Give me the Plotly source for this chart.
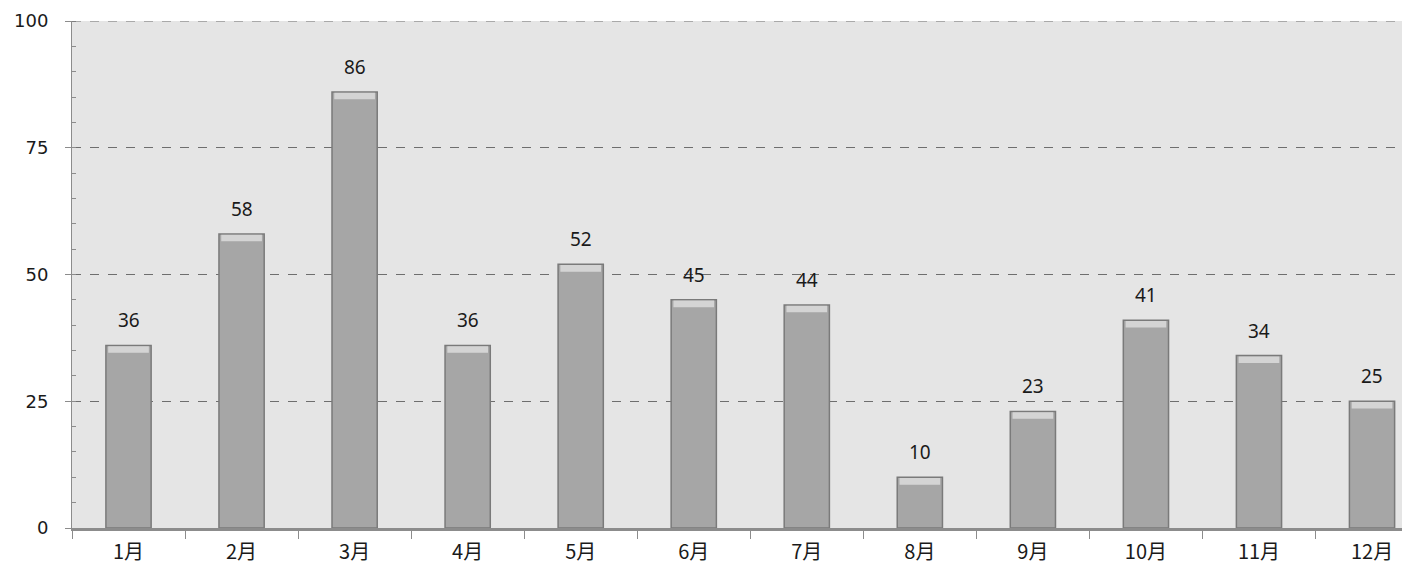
import plotly.graph_objects as go

months = ["1月", "2月", "3月", "4月", "5月", "6月", "7月", "8月", "9月", "10月", "11月", "12月"]
values = [36, 58, 86, 36, 52, 45, 44, 10, 23, 41, 34, 25]
y_ticks = [0, 25, 50, 75, 100]

bevel = 1.3
fig = go.Figure()
fig.add_trace(go.Bar(
    x=months, y=values, width=0.4,
    marker=dict(color="#a6a6a6", line=dict(color="#7a7a7a", width=1.5)),
))
fig.add_trace(go.Bar(
    x=months, y=[bevel] * len(values), base=[v - bevel - 0.15 for v in values], width=0.36,
    marker=dict(color="#d4d4d4", line=dict(width=0)), hoverinfo="skip",
))
for m, v in zip(months, values):
    fig.add_annotation(x=m, y=v, text=str(v), showarrow=False,
                       yanchor="bottom", yshift=10,
                       font=dict(family="Noto Sans", size=19, color="#1a1a1a"))

fig.add_shape(type="line", xref="paper", yref="y", x0=0, x1=1, y0=100, y1=100,
              line=dict(color="#6e6e6e", width=1, dash="dash"))

fig.update_layout(
    width=1402, height=563,
    margin=dict(l=64, r=0, t=13, b=43),
    paper_bgcolor="white",
    plot_bgcolor="#e5e5e5",
    showlegend=False,
    barmode="overlay",
)
fig.update_xaxes(
    type="category", range=[-0.5, 11.336], automargin=False,
    showline=True, linecolor="#8c8c8c", linewidth=3,
    ticks="outside", tickson="boundaries", ticklen=8, tickcolor="#8c8c8c",
    showgrid=False,
    tickfont=dict(family="Noto Sans CJK SC", size=20, color="#1a1a1a"),
    ticklabelstandoff=4,
)
fig.update_yaxes(
    range=[0, 100], tickvals=y_ticks, automargin=False,
    showline=True, linecolor="#8c8c8c", linewidth=1,
    ticks="outside", ticklen=6, tickcolor="#8c8c8c",
    minor=dict(dtick=5, ticks="inside", ticklen=4, tickcolor="#8c8c8c", showgrid=False),
    showgrid=True, gridcolor="#6e6e6e", griddash="dash", gridwidth=1,
    zeroline=False,
    tickfont=dict(family="DejaVu Sans", size=18, color="#1a1a1a"),
    ticklabelstandoff=13,
)
fig.write_html("out.html")
